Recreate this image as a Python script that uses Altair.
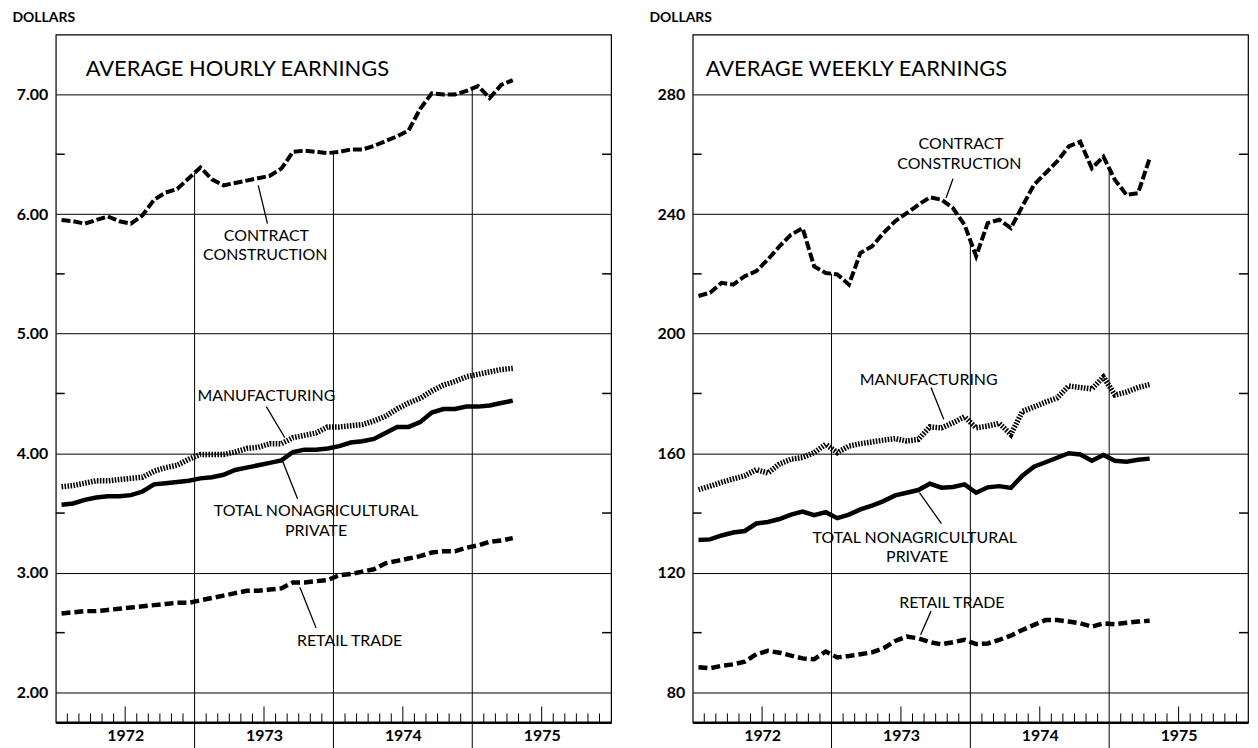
import altair as alt
import pandas as pd

FONT = "Lato"

months = [f"{y}-{m:02d}" for y in (1972, 1973, 1974, 1975) for m in range(1, 13)][:40]

hourly_cc = [5.95, 5.94, 5.92, 5.95, 5.98, 5.94, 5.92, 5.99, 6.12, 6.18, 6.21, 6.30,
             6.39, 6.29, 6.24, 6.26, 6.28, 6.30, 6.32, 6.38, 6.52, 6.53, 6.52, 6.51,
             6.52, 6.54, 6.54, 6.57, 6.61, 6.65, 6.70, 6.88, 7.01, 7.00, 7.00, 7.03,
             7.07, 6.97, 7.08, 7.12]
hourly_mfg = [3.72, 3.73, 3.75, 3.77, 3.77, 3.78, 3.79, 3.80, 3.85, 3.88, 3.90, 3.95,
              3.99, 3.99, 3.99, 4.01, 4.04, 4.05, 4.08, 4.08, 4.13, 4.15, 4.17, 4.22,
              4.22, 4.23, 4.24, 4.27, 4.31, 4.37, 4.42, 4.46, 4.52, 4.57, 4.60, 4.64,
              4.66, 4.68, 4.70, 4.71]
hourly_total = [3.57, 3.58, 3.61, 3.63, 3.64, 3.64, 3.65, 3.68, 3.74, 3.75, 3.76, 3.77,
                3.79, 3.80, 3.82, 3.86, 3.88, 3.90, 3.92, 3.94, 4.01, 4.03, 4.03, 4.04,
                4.06, 4.09, 4.10, 4.12, 4.17, 4.22, 4.22, 4.26, 4.34, 4.37, 4.37, 4.39,
                4.39, 4.40, 4.42, 4.44]
hourly_retail = [2.66, 2.67, 2.68, 2.68, 2.69, 2.70, 2.71, 2.72, 2.73, 2.74, 2.75, 2.75,
                 2.77, 2.79, 2.81, 2.83, 2.85, 2.85, 2.86, 2.87, 2.92, 2.92, 2.93, 2.94,
                 2.98, 2.99, 3.01, 3.03, 3.08, 3.10, 3.12, 3.14, 3.17, 3.18, 3.18, 3.21,
                 3.23, 3.26, 3.27, 3.29]

weekly_cc = [212.6, 213.7, 217.0, 216.4, 219.2, 220.9, 224.8, 229.2, 233.1, 235.3, 222.5, 220.3,
             219.8, 216.4, 227.0, 229.2, 233.7, 237.6, 240.3, 243.1, 245.6, 244.8, 242.0, 236.4,
             225.9, 237.0, 238.1, 235.3, 242.6, 249.8, 253.7, 257.6, 262.6, 264.2, 255.3, 259.2,
             251.4, 246.4, 247.0, 258.7]
weekly_mfg = [147.8, 149.0, 150.3, 151.4, 152.5, 154.5, 153.4, 156.4, 158.0, 158.6, 160.2, 163.0,
              160.2, 162.4, 163.2, 163.8, 164.4, 164.9, 164.1, 164.6, 168.8, 168.5, 170.2, 172.2,
              168.5, 169.1, 170.0, 166.3, 174.0, 175.5, 177.1, 178.5, 182.5, 182.0, 181.5, 185.5,
              179.5, 180.5, 182.0, 183.0]
weekly_total = [131.0, 131.2, 132.5, 133.5, 134.0, 136.5, 137.0, 138.0, 139.5, 140.5, 139.3, 140.3,
                138.3, 139.5, 141.2, 142.5, 144.0, 145.9, 146.8, 147.7, 149.8, 148.5, 148.7, 149.6,
                146.8, 148.6, 149.0, 148.4, 152.5, 155.5, 157.0, 158.5, 160.0, 159.6, 157.5, 159.4,
                157.5, 157.2, 157.8, 158.2]
weekly_retail = [88.4, 88.1, 88.9, 89.4, 90.3, 92.8, 93.9, 93.3, 92.3, 91.4, 91.1, 93.7,
                 91.7, 92.2, 92.8, 93.4, 94.8, 97.2, 98.7, 98.1, 96.8, 96.1, 96.8, 97.6,
                 96.2, 96.4, 97.6, 99.0, 100.9, 102.6, 104.2, 104.2, 103.7, 103.1, 102.0, 103.1,
                 102.8, 103.3, 103.7, 104.0]

years = ["1972", "1973", "1974", "1975"]
year_centers = [6, 18, 30, 42]
year_bounds = [12, 24, 36]
month_ticks = [m for m in range(1, 48) if m % 12 not in (0, 6)]

hourly_major = [2, 3, 4, 5, 6, 7]
hourly_minor = [2.5, 3.5, 4.5, 5.5, 6.5]
weekly_major = [80, 120, 160, 200, 240, 280]
weekly_minor = [100, 140, 180, 220, 260]

# annotation labels (month position, value, text)
hourly_labels = [(18.2, 5.82, "CONTRACT"), (18.1, 5.655, "CONSTRUCTION"),
                 (18.2, 4.475, "MANUFACTURING"),
                 (22.5, 3.52, "TOTAL NONAGRICULTURAL"), (22.5, 3.35, "PRIVATE"),
                 (25.4, 2.43, "RETAIL TRADE")]
hourly_arrows = [(18.3, 5.92, 17.5, 6.24), (18.2, 4.39, 19.8, 4.13),
                 (20.9, 3.62, 19.6, 3.935), (22.5, 2.54, 21.1, 2.88)]
weekly_labels = [(23.2, 263.4, "CONTRACT"), (23.05, 256.7, "CONSTRUCTION"),
                 (20.4, 184.6, "MANUFACTURING"),
                 (19.2, 131.8, "TOTAL NONAGRICULTURAL"), (19.4, 125.2, "PRIVATE"),
                 (22.4, 109.9, "RETAIL TRADE")]
weekly_arrows = [(22.5, 251.8, 21.9, 245.4), (20.6, 182.0, 21.7, 171.4),
                 (21.5, 136.5, 19.6, 146.8), (20.6, 107.2, 19.7, 99.3)]

W, H = 558, 691


def panel(title, title_x, cc, mfg, total, retail, ydom, major, minor, fmt, labels, arrows):
    xs = alt.Scale(domain=[0, 48], nice=False, zero=False)
    ys = alt.Scale(domain=ydom, nice=False, zero=False)
    m = [i + 0.5 for i in range(len(months))]

    def line_df(vals):
        return pd.DataFrame({"month": months, "m": m, "v": vals})

    xaxis = alt.Axis(values=year_centers,
                     labelExpr="['1972','1973','1974','1975'][(datum.value - 6) / 12]",
                     grid=False, ticks=False, domain=True, domainColor="black", domainWidth=2.5,
                     labelFont=FONT, labelFontSize=16, labelFontWeight="bold", labelColor="black",
                     labelPadding=5, title=None)
    yaxis = alt.Axis(values=major, format=fmt, grid=True, gridColor="black", gridWidth=1,
                     gridOpacity=1, ticks=False, domain=False, labelFont=FONT, labelFontSize=16,
                     labelFontWeight="bold", labelColor="black", labelPadding=8,
                     title="DOLLARS", titleAngle=0, titleAlign="left", titleBaseline="alphabetic",
                     titleX=-44, titleY=-13, titleFont=FONT, titleFontSize=14,
                     titleFontWeight="bold", titleColor="black")

    X = lambda f="m:Q": alt.X(f, scale=xs, axis=xaxis)
    Y = lambda f="v:Q": alt.Y(f, scale=ys, axis=yaxis)

    sep_vals = [(cc[b - 1] + cc[b]) / 2 for b in year_bounds]
    sep = alt.Chart(pd.DataFrame({"m": year_bounds, "v": sep_vals})).mark_rule(
        color="black", strokeWidth=1).encode(x=X(), y=Y(), y2=alt.value(H + 26))

    mt = alt.Chart(pd.DataFrame({"m": month_ticks})).mark_rule(color="black", strokeWidth=1).encode(
        x=X(), y=alt.value(H), y2=alt.value(H - 9))
    myt = alt.Chart(pd.DataFrame({"m": year_centers})).mark_rule(color="black", strokeWidth=1).encode(
        x=X(), y=alt.value(H), y2=alt.value(H - 16))

    mdf = pd.DataFrame({"v": minor})
    minl = alt.Chart(mdf).mark_rule(color="black", strokeWidth=1.5).encode(
        y=Y(), x=alt.value(0), x2=alt.value(9))
    minr = alt.Chart(mdf).mark_rule(color="black", strokeWidth=1.5).encode(
        y=Y(), x=alt.value(W - 9), x2=alt.value(W))

    def ln(vals, **kw):
        return alt.Chart(line_df(vals)).mark_line(color="black", **kw).encode(x=X(), y=Y())

    l_cc = ln(cc, strokeWidth=4, strokeDash=[9, 3])
    l_mfg = ln(mfg, strokeWidth=5.5, strokeDash=[1.6, 1.4])
    l_tot = ln(total, strokeWidth=4.5)
    l_ret = ln(retail, strokeWidth=4.5, strokeDash=[9, 4])

    ldf = pd.DataFrame(labels, columns=["m", "v", "t"])
    txt = alt.Chart(ldf).mark_text(font=FONT, fontSize=16, color="black", align="center",
                                   baseline="middle").encode(x=X(), y=Y(), text="t:N")

    adf = pd.DataFrame(arrows, columns=["m", "v", "m2", "v2"])
    arr = alt.Chart(adf).mark_rule(color="black", strokeWidth=1.3).encode(
        x=X(), y=Y(), x2="m2:Q", y2="v2:Q")

    ttl = alt.Chart(pd.DataFrame({"t": [title]})).mark_text(
        font=FONT, fontSize=22, color="black", align="left", baseline="middle").encode(
        x=alt.value(title_x), y=alt.value(35), text="t:N")

    return alt.layer(sep, mt, myt, minl, minr, l_ret, l_tot, l_mfg, l_cc, arr, txt, ttl).properties(
        width=W, height=H)


left = panel("AVERAGE HOURLY EARNINGS", 30, hourly_cc, hourly_mfg, hourly_total, hourly_retail,
             [1.75, 7.5], hourly_major, hourly_minor, ".2f", hourly_labels, hourly_arrows)
right = panel("AVERAGE WEEKLY EARNINGS", 13, weekly_cc, weekly_mfg, weekly_total, weekly_retail,
              [70, 300], weekly_major, weekly_minor, "d", weekly_labels, weekly_arrows)

chart = alt.hconcat(left, right, spacing=35).properties(
    padding={"left": 3, "top": 0, "right": 0, "bottom": 0},
    background="white"
).configure_view(stroke="black", strokeWidth=1.2)

chart.save("out.html", embed_options={"renderer": "svg", "actions": False})
